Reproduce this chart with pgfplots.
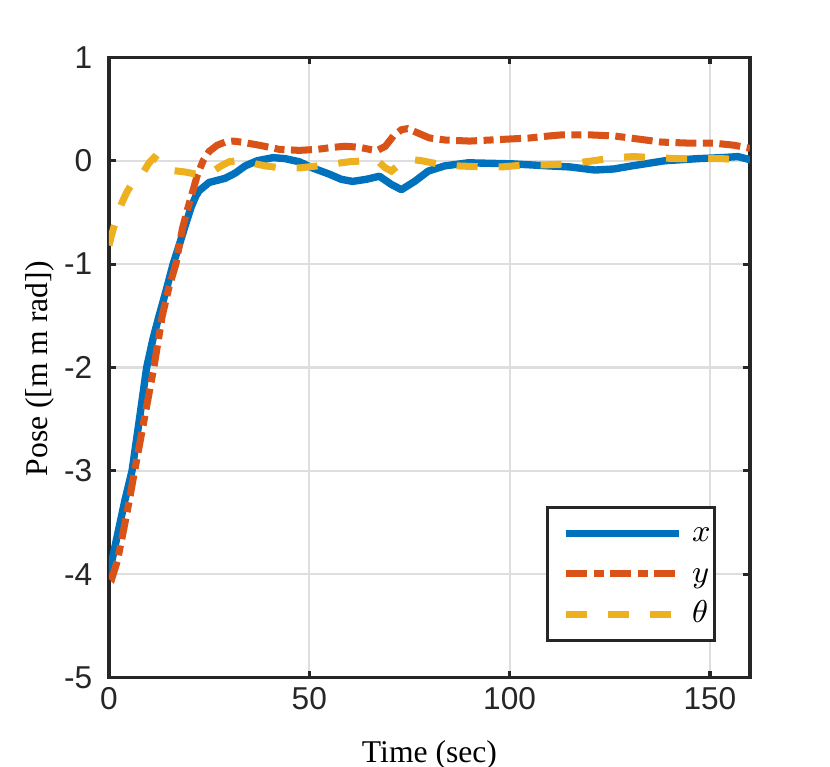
\documentclass[border=0pt]{standalone}
\usepackage{fontspec}
\setmainfont{Liberation Serif}
\newfontfamily\ticksf{Liberation Sans}
\usepackage{pgfplots}
\pgfplotsset{compat=1.18}
\definecolor{mblue}{rgb}{0,0.447,0.741}
\definecolor{morange}{rgb}{0.85,0.325,0.098}
\definecolor{myellow}{rgb}{0.929,0.694,0.125}
\definecolor{axgray}{rgb}{0.15,0.15,0.15}
\begin{document}
\begin{tikzpicture}
\begin{axis}[
  scale only axis, width=6.41cm, height=6.204cm,
  at={(0,0)}, anchor=south west,
  xmin=0, xmax=160, ymin=-5, ymax=1,
  xtick={0,50,100,150}, xticklabels={0,50,100,150},
  ytick={-5,-4,-3,-2,-1,0,1}, yticklabels={-5,-4,-3,-2,-1,0,1},
  tick align=inside, major tick length=0.07cm,
  grid=major, major grid style={line width=0.6pt, draw=black!13},
  axis line style={line width=0.9pt, draw=axgray},
  tick style={line width=0.9pt, draw=axgray},
  ticklabel style={font=\fontsize{9}{10}\selectfont\ticksf, text=axgray},
  xticklabel style={inner sep=0pt, anchor=north, yshift=-0.09cm},
  yticklabel style={inner sep=0pt, anchor=east, xshift=-0.16cm},
  xlabel={Time (sec)}, ylabel={Pose ([m m rad])},
  label style={font=\fontsize{9}{10}\selectfont},
  xlabel style={at={(axis description cs:0.5,-0.1359)}, anchor=base},
  ylabel style={at={(axis description cs:-0.1076,0.498)}, anchor=center},
  legend style={at={(axis description cs:0.947,0.2772)}, anchor=north east,
    draw=axgray, line width=0.9pt, fill=white, font=\fontsize{9}{10}\selectfont,
    inner xsep=0.04cm, inner ysep=0.093cm, row sep=0.068cm, column sep=0.09cm,
    cells={anchor=base west},
    nodes={inner sep=0pt, text height=0.25cm, text depth=0.087cm}},
  legend image code/.code={\path[draw=none,fill=none] (0cm,0.083cm) -- (0.05cm,0.083cm);
    \draw[#1,line cap=butt] (0.15cm,0.083cm) -- (1.28cm,0.083cm);},
]
\addplot[mblue, line width=2.1pt, line join=round] coordinates {
(0,-4.0) (1,-3.82) (2.5,-3.55) (4,-3.28) (5.75,-3.0) (7.6,-2.5) (9.4,-2.0)
(11,-1.72) (12.5,-1.5) (14.3,-1.25) (16,-1.0) (17.5,-0.82) (19,-0.63)
(20.5,-0.45) (21.7,-0.34) (22.5,-0.29) (25,-0.21) (27,-0.19) (29,-0.17)
(31.5,-0.12) (34,-0.05) (37,0.0) (41,0.03) (44,0.02) (47.5,-0.01)
(50.8,-0.07) (55,-0.13) (58,-0.18) (60.8,-0.2) (64.2,-0.18) (67.5,-0.15)
(70.5,-0.23) (73,-0.28) (76.3,-0.2) (79.7,-0.1) (83.8,-0.05) (89.7,-0.02)
(100.5,-0.03) (109.7,-0.05) (115,-0.06) (121.3,-0.09) (126,-0.08)
(130.5,-0.05) (138.8,0.0) (147,0.02) (153,0.03) (157,0.04) (160,0.01)
};
\addlegendentry{$x$}
\addplot[morange, line width=2pt, line cap=butt, dash pattern=on 0.21cm off 0.065cm on 0.10cm off 0.065cm] coordinates {
(0,-4.0) (0.8,-4.03) (2.1,-3.87) (3.5,-3.6) (5,-3.3) (6.4,-3.0) (8.8,-2.5)
(11.2,-2.0) (13.3,-1.5) (15,-1.22) (16.7,-1.0) (18.3,-0.66) (19.6,-0.47)
(20.8,-0.31) (22,-0.145) (23.5,0.0) (25,0.09) (27,0.15) (29,0.18) (31,0.19)
(33,0.18) (37.5,0.15) (42.5,0.11) (47.5,0.10) (52,0.11) (56,0.13) (59,0.14)
(62.5,0.13) (65,0.11) (67,0.10) (69,0.14) (71,0.24) (73,0.30) (74.5,0.31)
(77,0.27) (80,0.22) (84,0.20) (90,0.19) (95,0.20) (100,0.21) (105,0.22)
(110,0.24) (113,0.25) (120,0.25) (126,0.24) (132,0.21) (138,0.18)
(145,0.17) (151,0.17) (156,0.15) (160,0.12)
};
\addlegendentry{$y$}
\addplot[myellow, line width=2pt, line cap=butt, dash pattern=on 0.21cm off 0.21cm] coordinates {
(0,-0.82) (0.5,-0.74) (1.3,-0.63) (2.3,-0.5) (3.3,-0.40) (4.5,-0.3)
(5.8,-0.22) (7.2,-0.15) (8.75,-0.1) (10,-0.02) (11.25,0.03) (12.3,0.0)
(13.3,-0.05) (15,-0.09) (17,-0.1) (19.2,-0.11) (21.7,-0.13) (24,-0.12)
(26,-0.10) (28,-0.05) (30,-0.01) (32,0.0) (34,0.0) (36.5,-0.03) (39,-0.05)
(43,-0.07) (47.5,-0.07) (52,-0.05) (56,-0.03) (60,-0.01) (64,0.0)
(67,0.0) (69,-0.07) (70.5,-0.1) (72,-0.05) (74,0.0) (76,0.01) (78,0.0)
(82,-0.03) (87,-0.05) (93,-0.06) (98,-0.06) (104,-0.04) (109,-0.04)
(115,-0.03) (121,0.0) (126,0.03) (131,0.04) (136,0.03) (142,0.02)
(147,0.02) (153,0.02) (157,0.01) (160,0.0)
};
\addlegendentry{$\theta$}
\end{axis}
\pgfresetboundingbox
\path (-1.09cm,-0.893cm) rectangle (7.21cm,6.777cm);
\end{tikzpicture}
\end{document}
